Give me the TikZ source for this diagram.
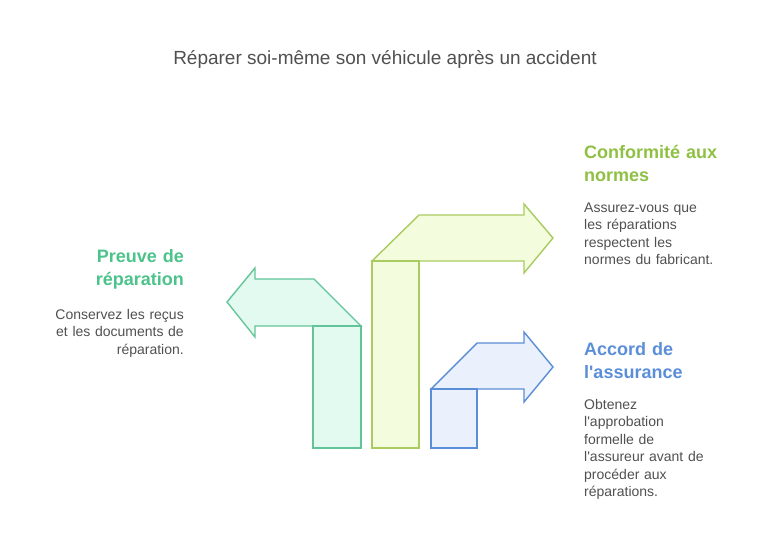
\documentclass[tikz,border=0pt]{standalone}
\usepackage{fontspec}
\setmainfont{Liberation Sans}[Ligatures=TeXOff]
\definecolor{gS}{HTML}{62C497}
\definecolor{gF}{HTML}{E3FAF0}
\definecolor{gT}{HTML}{4CC38A}
\definecolor{yS}{HTML}{A9CB5F}
\definecolor{yF}{HTML}{F3FCDC}
\definecolor{yT}{HTML}{8FC043}
\definecolor{bS}{HTML}{5A8ED6}
\definecolor{bF}{HTML}{EAF1FC}
\definecolor{bT}{HTML}{5A8ED8}
\definecolor{txt}{HTML}{505050}
\begin{document}
\begin{tikzpicture}[x=1pt,y=-1pt,
  arrowshape/.style={line width=1.4pt,line join=miter},
  head/.style={font=\fontsize{18}{23}\selectfont\bfseries,inner sep=0pt,text width=160pt},
  body/.style={font=\fontsize{14}{17.5}\selectfont,text=txt,inner sep=0pt,text width=160pt}]
\useasboundingbox (0,0) rectangle (768,547);
\node[font=\fontsize{19}{22}\selectfont,text=txt,inner sep=0pt,anchor=base] (title) at (385,64) {Réparer soi-même son véhicule après un accident};
% green arrow
\draw[arrowshape,draw=gS,fill=gF] (255,326) -- (255,337) -- (227,302) -- (255,268) -- (255,279) -- (314,279) -- (361,326) -- cycle;
\draw[arrowshape,draw=gS,fill=gF] (313,326) rectangle (361,448);
% yellow-green arrow
\draw[arrowshape,draw=yS,fill=yF] (372,261) -- (419,215) -- (524,215) -- (524,204) -- (553,238) -- (524,273) -- (524,261) -- cycle;
\draw[arrowshape,draw=yS,fill=yF] (372,261) rectangle (419,448);
% blue arrow
\draw[arrowshape,draw=bS,fill=bF] (431,389) -- (477,343) -- (524,343) -- (524,332) -- (553,367) -- (524,402) -- (524,389) -- cycle;
\draw[arrowshape,draw=bS,fill=bF] (431,389) rectangle (477,448);
% left texts
\node[head,text=gT,align=right,anchor=base east] (h1) at (184,262) {Preuve de\\réparation};
\node[body,align=right,anchor=base east] (b1) at (184,319) {Conservez les reçus\\et les documents de\\réparation.};
% right texts
\node[head,text=yT,align=left,anchor=base west] (h2) at (584,158) {Conformité aux\\normes};
\node[body,align=left,anchor=base west] (b2) at (584,212) {Assurez-vous que\\les réparations\\respectent les\\normes du fabricant.};
\node[head,text=bT,align=left,anchor=base west] (h3) at (584,355) {Accord de\\l'assurance};
\node[body,align=left,anchor=base west] (b3) at (584,409) {Obtenez\\l'approbation\\formelle de\\l'assureur avant de\\procéder aux\\réparations.};
\end{tikzpicture}
\end{document}
